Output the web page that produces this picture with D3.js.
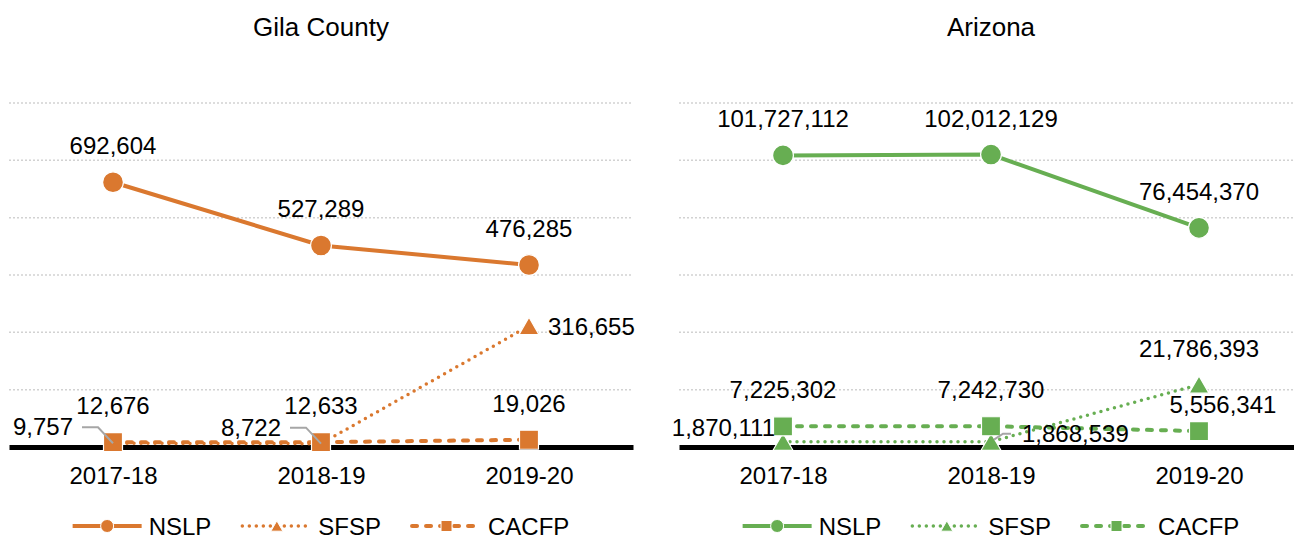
<!DOCTYPE html>
<html>
<head>
<meta charset="utf-8">
<script src="https://cdn.jsdelivr.net/npm/d3@7"></script>
<style>
  body { margin: 0; background: #fff; }
  svg text { font-family: "Liberation Sans", Arial, sans-serif; fill: #000; }
</style>
</head>
<body>
<svg id="chart"></svg>
<script>
var years = ["2017-18", "2018-19", "2019-20"];
var programs = ["NSLP", "SFSP", "CACFP"];
var titles = ["Gila County", "Arizona"];

var gilaNSLP = [692604, 527289, 476285];
var gilaSFSP = [9757, 8722, 316655];
var gilaCACFP = [12676, 12633, 19026];

var azNSLP = [101727112, 102012129, 76454370];
var azSFSP = [1870111, 1868539, 21786393];
var azCACFP = [7225302, 7242730, 5556341];

var gilaTicks = [0, 150000, 300000, 450000, 600000, 750000, 900000];
var azTicks = [0, 20000000, 40000000, 60000000, 80000000, 100000000, 120000000];

var panels = [
  {title: titles[0], series: [gilaNSLP, gilaSFSP, gilaCACFP], ticks: gilaTicks,
   color: "#DA782F", left: 9, right: 633,
   labels: [["above", "above", "above"], ["leftLeader", "leftLeader", "right"], ["above", "above", "above"]]},
  {title: titles[1], series: [azNSLP, azSFSP, azCACFP], ticks: azTicks,
   color: "#67AE52", left: 679, right: 1303,
   labels: [["above", "above", "above"], ["left", "rightLeader", "above"], ["above", "above", "aboveRight"]]}
];

// line + marker look for NSLP, SFSP, CACFP
var styles = [
  {dash: null, cap: "butt", symbol: d3.symbolCircle, size: 340, legendSize: 133},
  {dash: "0,7", cap: "round", symbol: d3.symbolTriangle, size: 173, legendSize: 62},
  {dash: "5,9", cap: "round", symbol: d3.symbolSquare, size: 361, legendSize: 121}
];

var fmt = d3.format(",");
var baseY = 447, topY = 103;

var svg = d3.select("#chart").attr("width", 1294).attr("height", 540);

function symOffset(style, size) {
  // center triangles on their bounding box, like the spreadsheet markers
  if (style.symbol === d3.symbolTriangle) return Math.sqrt(size / (Math.sqrt(3) * 3)) / 2;
  return 0;
}

panels.forEach(function(p) {
  var x = d3.scalePoint().domain(years).range([p.left, p.right]).padding(0.5);
  var y = d3.scaleLinear().domain([0, d3.max(p.ticks)]).range([baseY, topY]);
  var cx = (p.left + p.right) / 2;
  var g = svg.append("g");

  g.append("text")
    .attr("x", cx).attr("y", 36)
    .attr("text-anchor", "middle")
    .style("font-size", "26px")
    .text(p.title);

  // dotted gridlines
  g.selectAll(".grid")
    .data(p.ticks.slice(1))
    .enter().append("line")
    .attr("class", "grid")
    .attr("x1", p.left).attr("x2", p.right)
    .attr("y1", function(d) { return y(d); })
    .attr("y2", function(d) { return y(d); })
    .attr("stroke", "#D2D2D2")
    .attr("stroke-width", 1.5)
    .attr("stroke-dasharray", "2,2");

  // category axis
  var axis = g.append("g")
    .attr("transform", "translate(0," + baseY + ")")
    .call(d3.axisBottom(x).tickSize(0).tickSizeOuter(0).tickPadding(20));
  axis.select(".domain").attr("stroke", "#000").attr("stroke-width", 5);
  axis.selectAll("text")
    .attr("font-family", "Liberation Sans, Arial, sans-serif")
    .style("font-size", "24px")
    .attr("fill", "#000");

  var line = d3.line()
    .x(function(d, i) { return x(years[i]); })
    .y(function(d) { return y(d); });

  p.series.forEach(function(vals, k) {
    var st = styles[k];
    g.append("path")
      .attr("d", line(vals))
      .attr("fill", "none")
      .attr("stroke", p.color)
      .attr("stroke-width", k === 1 ? 3.5 : 4)
      .attr("stroke-linecap", st.cap)
      .attr("stroke-dasharray", st.dash);

    var off = symOffset(st, st.size);
    g.selectAll(".m" + k)
      .data(vals)
      .enter().append("path")
      .attr("d", d3.symbol(st.symbol, st.size))
      .attr("transform", function(d, i) { return "translate(" + x(years[i]) + "," + (y(d) + off) + ")"; })
      .attr("fill", p.color)
      .attr("stroke", "#fff")
      .attr("stroke-width", 1.2);
  });

  // data labels
  p.series.forEach(function(vals, k) {
    vals.forEach(function(v, i) {
      var px = x(years[i]), py = y(v);
      var where = p.labels[k][i];
      var t = g.append("text").style("font-size", "24px").text(fmt(v));
      if (where === "above") {
        t.attr("x", px).attr("y", py - 28).attr("text-anchor", "middle");
      } else if (where === "aboveRight") {
        t.attr("x", px + 24).attr("y", py - 18).attr("text-anchor", "middle");
      } else if (where === "right") {
        t.attr("x", px + 19).attr("y", py + 9).attr("text-anchor", "start");
      } else if (where === "left") {
        t.attr("x", px - 8).attr("y", py - 6).attr("text-anchor", "end");
      } else if (where === "leftLeader") {
        t.attr("x", px - 40).attr("y", py - 8).attr("text-anchor", "end");
        g.append("polyline")
          .attr("points", [[px - 31, py - 16], [px - 15, py - 16], [px, py]].join(" "))
          .attr("fill", "none").attr("stroke", "#A6A6A6").attr("stroke-width", 2);
      } else if (where === "rightLeader") {
        t.attr("x", px + 31).attr("y", py).attr("text-anchor", "start");
        g.append("polyline")
          .attr("points", [[px + 3, py - 2], [px + 12, py - 8], [px + 20, py - 8]].join(" "))
          .attr("fill", "none").attr("stroke", "#A6A6A6").attr("stroke-width", 2);
      }
    });
  });

  // legend
  var lg = g.append("g");
  var pos = 0;
  programs.forEach(function(name, k) {
    var st = styles[k];
    var item = lg.append("g").attr("transform", "translate(" + pos + ",0)");
    item.append("line")
      .attr("x1", 0).attr("x2", 69)
      .attr("stroke", p.color)
      .attr("stroke-width", k === 1 ? 3.5 : 4)
      .attr("stroke-linecap", st.cap)
      .attr("stroke-dasharray", st.dash);
    item.append("path")
      .attr("d", d3.symbol(st.symbol, st.legendSize))
      .attr("transform", "translate(34.5," + symOffset(st, st.legendSize) + ")")
      .attr("fill", p.color)
      .attr("stroke", "#fff")
      .attr("stroke-width", 1);
    var t = item.append("text")
      .attr("x", 76).attr("y", 8.5)
      .style("font-size", "24px")
      .text(name);
    pos += 76 + t.node().getComputedTextLength() + 31;
  });
  var total = pos - 31;
  lg.attr("transform", "translate(" + (cx - total / 2) + ",526)");
});
</script>
</body>
</html>
